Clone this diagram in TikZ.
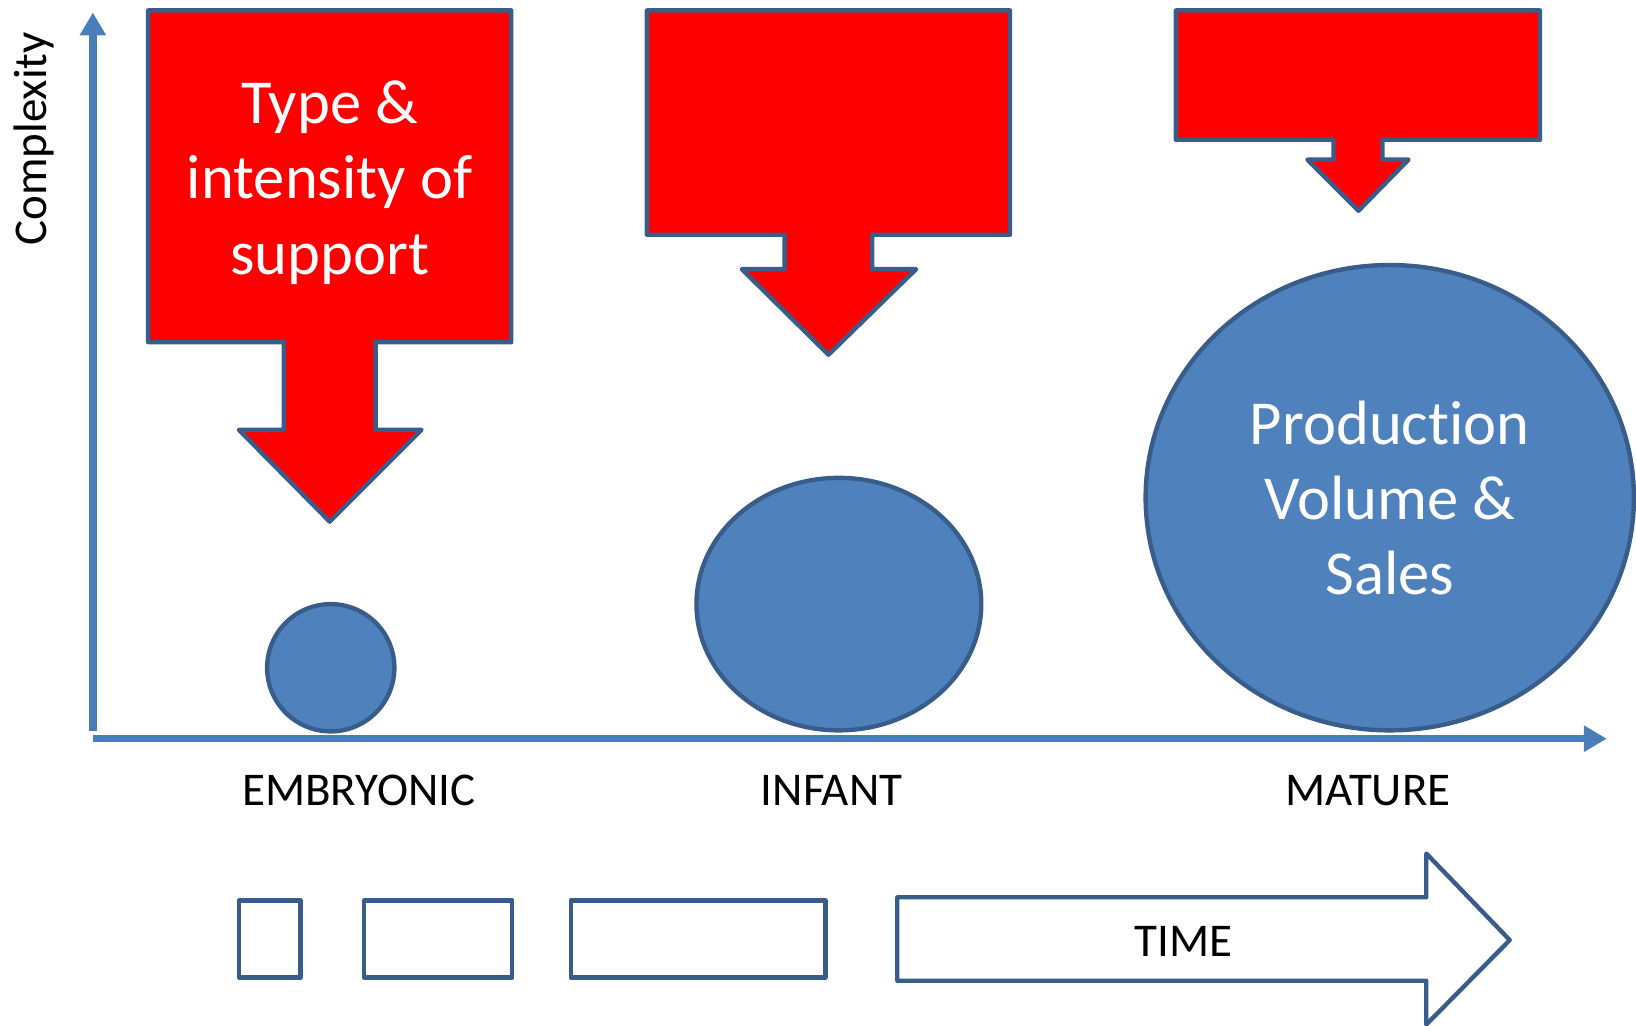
\documentclass[tikz,border=0pt]{standalone}
\usepackage{fontspec}
\setmainfont{Carlito}[RawFeature=-liga]
\usetikzlibrary{arrows.meta}
\definecolor{axisblue}{RGB}{74,126,187}
\definecolor{fillblue}{RGB}{79,129,189}
\definecolor{edgeblue}{RGB}{56,93,138}
\definecolor{calloutred}{RGB}{255,0,0}
\tikzset{
  axisline/.style={draw=axisblue, line width=3.5pt, -{Triangle[length=11pt,width=12pt]}},
  callout/.style={draw=edgeblue, fill=calloutred, line width=2.1pt, line join=round},
  bubble/.style={draw=edgeblue, fill=fillblue, line width=2.1pt},
  outlinebox/.style={draw=edgeblue, fill=white, line width=2.1pt, line join=round},
  lbl/.style={inner sep=0pt, font=\fontsize{22.5}{27}\selectfont, text=black},
  bigtext/.style={inner sep=0pt, align=center, text=white, font=\fontsize{30}{36}\selectfont}
}
\begin{document}
\begin{tikzpicture}[x=0.5pt, y=-0.5pt]
\useasboundingbox (0,0) rectangle (1568,983);
% axes
\coordinate (yb) at (89,701);
\coordinate (yt) at (89,12);
\coordinate (xl) at (89,708);
\coordinate (xr) at (1540,708);
\draw[axisline] (yb) -- (yt);
\draw[axisline] (xl) -- (xr);
% callouts
\draw[callout] (142,10) -- (490,10) -- (490,328) -- (360,328) -- (360,412) -- (404,412) -- (316,500) -- (229,412) -- (272,412) -- (272,328) -- (142,328) -- cycle;
\draw[callout] (620,10) -- (968,10) -- (968,225) -- (836,225) -- (836,258) -- (878,258) -- (794,340) -- (711,258) -- (752,258) -- (752,225) -- (620,225) -- cycle;
\draw[callout] (1127,10) -- (1476,10) -- (1476,134) -- (1325,134) -- (1325,153) -- (1350,153) -- (1302,202) -- (1253,153) -- (1278,153) -- (1278,134) -- (1127,134) -- cycle;
% bubbles
\draw[bubble] (317,640) circle [radius=61];
\draw[bubble] (804,579) ellipse [x radius=136.5, y radius=121];
\draw[bubble] (1332,477) ellipse [x radius=234, y radius=223];
% bottom boxes and time arrow
\draw[outlinebox] (229,863) rectangle (288,937);
\draw[outlinebox] (349,863) rectangle (491,937);
\draw[outlinebox] (547,863) rectangle (791,937);
\draw[outlinebox] (860,860) -- (1367,860) -- (1367,818) -- (1447,901) -- (1367,982) -- (1367,940) -- (860,940) -- cycle;
% texts
\node[bigtext] (sup) at (316,175) {Type \&\\intensity of\\support};
\node[bigtext] (prod) at (1332,477) {Production\\Volume \&\\Sales};
\node[lbl, anchor=base] (emb) at (344,772) {EMBRYONIC};
\node[lbl, anchor=base] (inf) at (797,772) {INFANT};
\node[lbl, anchor=base] (mat) at (1311,772) {MATURE};
\node[lbl, anchor=base] (time) at (1134,917) {TIME};
\node[lbl, rotate=90, anchor=base] (cx) at (45,133) {Complexity};
\end{tikzpicture}
\end{document}
